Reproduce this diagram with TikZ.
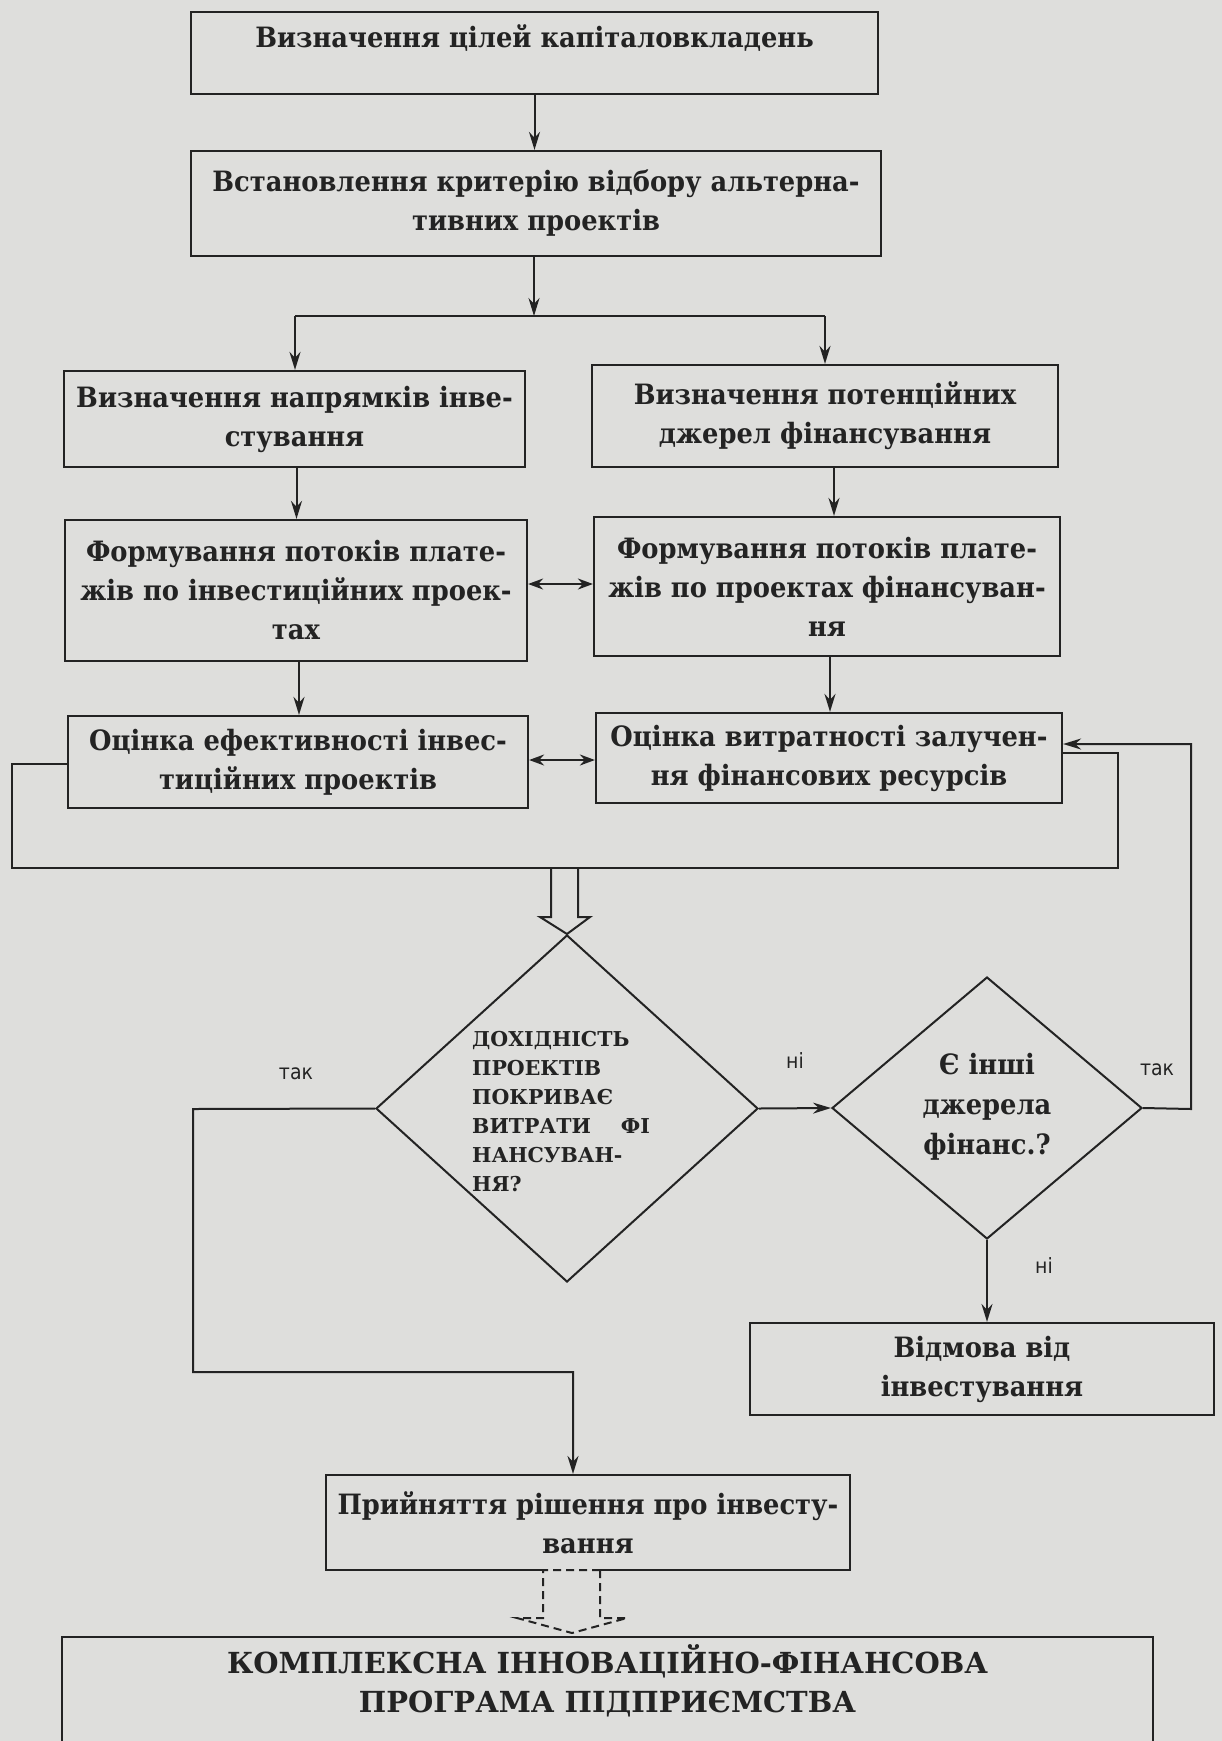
\documentclass[tikz,border=0pt]{standalone}
\usepackage{fontspec}
\setmainfont{DejaVu Serif}[FakeStretch=0.92]
\newfontfamily\serifw{DejaVu Serif}[FakeStretch=1.0]
\newfontfamily\sansn{DejaVu Sans}[FakeStretch=0.9]
\usetikzlibrary{arrows.meta,shapes.geometric}
\definecolor{paper}{RGB}{222,222,220}
\definecolor{ink}{RGB}{35,35,35}
\begin{document}
\begin{tikzpicture}[x=1pt,y=-1pt,
  box/.style={draw=ink, line width=2.2pt, align=center, inner sep=0pt, text=ink,
    font=\bfseries\fontsize{28}{39}\selectfont},
  txt/.style={align=center, inner sep=0pt, text=ink, font=\bfseries\fontsize{28}{39}\selectfont},
  ln/.style={draw=ink, line width=2pt},
  arr/.style={ln, -{Stealth[length=18pt,width=11pt]}},
  darr/.style={ln, {Stealth[length=15pt,width=11pt]}-{Stealth[length=15pt,width=11pt]}},
  lbl/.style={inner sep=0pt, text=ink, font=\sansn\fontsize{21}{26}\selectfont},
]
\fill[paper] (0,0) rectangle (1222,1741);
\useasboundingbox (0,0) rectangle (1222,1741);

% boxes
\node[box, minimum width=687pt, minimum height=82pt] (b1) at (534.5,53) {};
\node[txt] (t1) at (534.5,38) {Визначення цілей капіталовкладень};
\node[box, minimum width=690pt, minimum height=105pt] (b2) at (536,203.5)
  {Встановлення критерію відбору альтерна-\\тивних проектів};
\node[box, minimum width=461pt, minimum height=96pt] (b3) at (294.5,419)
  {Визначення напрямків інве-\\стування};
\node[box, minimum width=466pt, minimum height=102pt] (b4) at (825,416)
  {Визначення потенційних\\джерел фінансування};
\node[box, minimum width=462pt, minimum height=141pt] (b5) at (296,590.5)
  {Формування потоків плате-\\жів по інвестиційних проек-\\тах};
\node[box, minimum width=466pt, minimum height=139pt] (b6) at (827,586.5)
  {Формування потоків плате-\\жів по проектах фінансуван-\\ня};
\node[box, minimum width=460pt, minimum height=92pt] (b7) at (298,762)
  {Оцінка ефективності інвес-\\тиційних проектів};
\node[box, minimum width=466pt, minimum height=90pt] (b8) at (829,758)
  {Оцінка витратності залучен-\\ня фінансових ресурсів};
\node[box, minimum width=524pt, minimum height=95pt] (b9) at (588,1522.5)
  {Прийняття рішення про інвесту-\\вання};
\node[box, minimum width=464pt, minimum height=92pt] (b10) at (982,1369)
  {Відмова від\\інвестування};
\node[box, minimum width=1091pt, minimum height=160pt, anchor=north] (b11) at (607.5,1636) {};
\node[txt, font=\serifw\bfseries\fontsize{29}{39}\selectfont] (t11) at (607.5,1681) {КОМПЛЕКСНА ІННОВАЦІЙНО-ФІНАНСОВА\\ПРОГРАМА ПІДПРИЄМСТВА};

% diamonds
\node[diamond, draw=ink, line width=2pt, inner sep=0pt, minimum width=382pt, minimum height=347pt] (d1) at (567,1108.5) {};
\node[anchor=west, align=left, inner sep=0pt, text=ink, font=\serifw\bfseries\fontsize{20.5}{29}\selectfont] (q1) at (472,1112)
  {ДОХІДНІСТЬ\\ПРОЕКТІВ\\ПОКРИВАЄ\\ВИТРАТИ\hspace{30pt}ФІ\\НАНСУВАН-\\НЯ?};
\node[diamond, draw=ink, line width=2pt, inner sep=0pt, minimum width=310pt, minimum height=262pt] (d2) at (987,1108) {};
\node[txt, font=\bfseries\fontsize{28}{40}\selectfont] (q2) at (987,1107) {Є інші\\джерела\\фінанс.?};

% helper coordinates
\coordinate (jL) at (295,316);
\coordinate (jR) at (825,316);
\coordinate (y584) at (0,584);
\coordinate (y760) at (0,760);
\coordinate (bl1) at (12,764);
\coordinate (bl2) at (12,868);
\coordinate (br2) at (1118,868);
\coordinate (br1) at (1118,753);
\coordinate (y753) at (0,753);
\coordinate (y764) at (0,764);
\coordinate (r1) at (1191,1109);
\coordinate (r2) at (1191,744);
\coordinate (y744) at (0,744);
\coordinate (l1) at (193,1109);
\coordinate (l2) at (193,1372);
\coordinate (l3) at (573,1372);

% connectors
\draw[arr] (b1.south) -- (b1.south |- b2.north);
\draw[arr] (b2.south -| 534,0) -- (534,316);
\draw[ln] (jL) -- (jR);
\draw[arr] (jL) -- (jL |- b3.north);
\draw[arr] (jR) -- (jR |- b4.north);
\draw[arr] ([xshift=2pt]b3.south) -- ([xshift=2pt]b3.south |- b5.north);
\draw[arr] ([xshift=9pt]b4.south) -- ([xshift=9pt]b4.south |- b6.north);
\draw[arr] ([xshift=3pt]b5.south) -- ([xshift=3pt]b5.south |- b7.north);
\draw[arr] ([xshift=3pt]b6.south) -- ([xshift=3pt]b6.south |- b8.north);
\draw[darr] (b5.east |- y584) -- (b6.west |- y584);
\draw[darr] (b7.east |- y760) -- (b8.west |- y760);
% bracket round the two evaluation boxes
\draw[ln] (b7.west |- y764) -- (bl1) -- (bl2) -- (br2) -- (br1) -- (b8.east |- y753);
% hollow block arrow into the first decision
\draw[ln, line join=miter] (551,868) -- (551,917) -- (540,917) -- (d1.north) -- (590,917) -- (578,917) -- (578,868);
% decisions
\draw[arr] (d1.east) -- (d2.west);
\node[lbl] (n1) at (795,1061) {ні};
\draw[arr] (d2.east) -- (r1) -- (r2) -- (b8.east |- y744);
\node[lbl] (n2) at (1157,1070) {так};
\draw[arr] (d1.west) -- (l1) -- (l2) -- (l3) -- (l3 |- b9.north);
\node[lbl] (n3) at (296,1074) {так};
\draw[arr] (d2.south) -- (d2.south |- b10.north);
\node[lbl] (n4) at (1044,1266) {ні};
% dashed block arrow to the programme
\draw[paper, line width=3.5pt] (546,1570) -- (597,1570);
\draw[ln, dashed, dash pattern=on 8pt off 5pt] (600,1570) -- (543,1570) -- (543,1618) -- (517,1618) -- (572,1633) -- (627,1618) -- (600,1618) -- cycle;
\end{tikzpicture}
\end{document}
